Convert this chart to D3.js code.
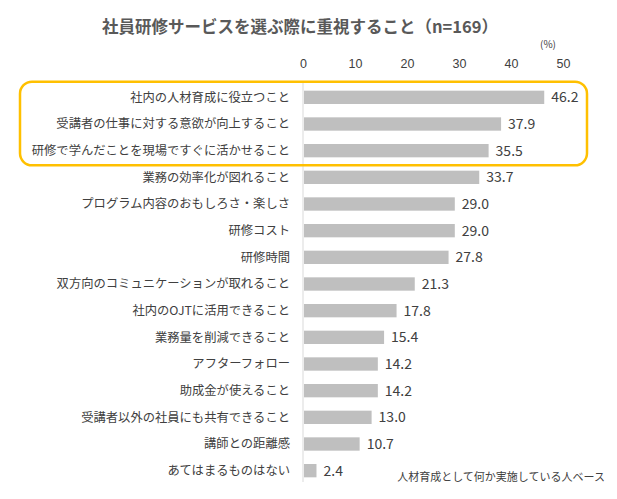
<!DOCTYPE html>
<html><head><meta charset="utf-8">
<script src="https://cdn.jsdelivr.net/npm/d3@7"></script>
<style>body{margin:0;background:#fff;} svg{display:block;font-family:"Noto Sans CJK JP","Noto Sans",sans-serif;}</style>
</head><body>
<svg id="c" width="617" height="499"></svg>
<script>
const categories = ["社内の人材育成に役立つこと","受講者の仕事に対する意欲が向上すること","研修で学んだことを現場ですぐに活かせること","業務の効率化が図れること","プログラム内容のおもしろさ・楽しさ","研修コスト","研修時間","双方向のコミュニケーションが取れること","社内のOJTに活用できること","業務量を削減できること","アフターフォロー","助成金が使えること","受講者以外の社員にも共有できること","講師との距離感","あてはまるものはない"];
const values = [46.2,37.9,35.5,33.7,29.0,29.0,27.8,21.3,17.8,15.4,14.2,14.2,13.0,10.7,2.4];
const ticks = [0,10,20,30,40,50];
const highlighted = categories.slice(0,3);

const svg = d3.select("#c");
const x = d3.scaleLinear().domain([0,50]).range([303,563]);
const y = d3.scaleBand().domain(categories).range([84,484]).paddingInner(0.5).paddingOuter(0.25);

svg.append("text").attr("x",300).attr("y",33).attr("text-anchor","middle")
  .attr("font-size",16.5).attr("font-weight","bold").attr("fill","#595959")
  .text("社員研修サービスを選ぶ際に重視すること（n=169）");
svg.append("text").attr("x",548).attr("y",48).attr("text-anchor","middle")
  .attr("font-size",10).attr("fill","#404040").text("(%)");

const ax = svg.append("g").attr("transform","translate(0,68)")
  .call(d3.axisTop(x).tickValues(ticks).tickSize(0).tickPadding(0));
ax.select(".domain").remove();
ax.selectAll("text").attr("font-size",12.5).attr("fill","#404040").attr("font-family","inherit");

svg.append("line").attr("x1",x(0)).attr("x2",x(0)).attr("y1",82).attr("y2",482)
  .attr("stroke","#d9d9d9").attr("stroke-width",1);

svg.selectAll("rect.bar").data(values).join("rect").attr("class","bar")
  .attr("x",x(0)+1).attr("y",(d,i)=>y(categories[i]))
  .attr("width",d=>x(d)-x(0)).attr("height",y.bandwidth()).attr("fill","#bfbfbf");

svg.selectAll("text.val").data(values).join("text").attr("class","val")
  .attr("x",d=>x(d)+8).attr("y",(d,i)=>y(categories[i])+y.bandwidth()/2)
  .attr("dy","0.36em").attr("font-size",14).attr("fill","#404040")
  .text(d=>d.toFixed(1));

svg.selectAll("text.cat").data(categories).join("text").attr("class","cat")
  .attr("x",290).attr("y",d=>y(d)+y.bandwidth()/2).attr("dy","0.36em")
  .attr("text-anchor","end").attr("font-size",12.3).attr("fill","#404040").text(d=>d);

const hTop = y(highlighted[0]) - 9, hBot = y(highlighted[highlighted.length-1]) + y.bandwidth() + 8;
svg.append("rect").attr("x",20).attr("y",hTop).attr("width",567).attr("height",hBot-hTop)
  .attr("rx",12).attr("fill","none").attr("stroke","#ffc000").attr("stroke-width",2.5);

svg.append("text").attr("x",605).attr("y",481).attr("text-anchor","end")
  .attr("font-size",11).attr("fill","#404040").text("人材育成として何か実施している人ベース");
</script>
</body></html>
